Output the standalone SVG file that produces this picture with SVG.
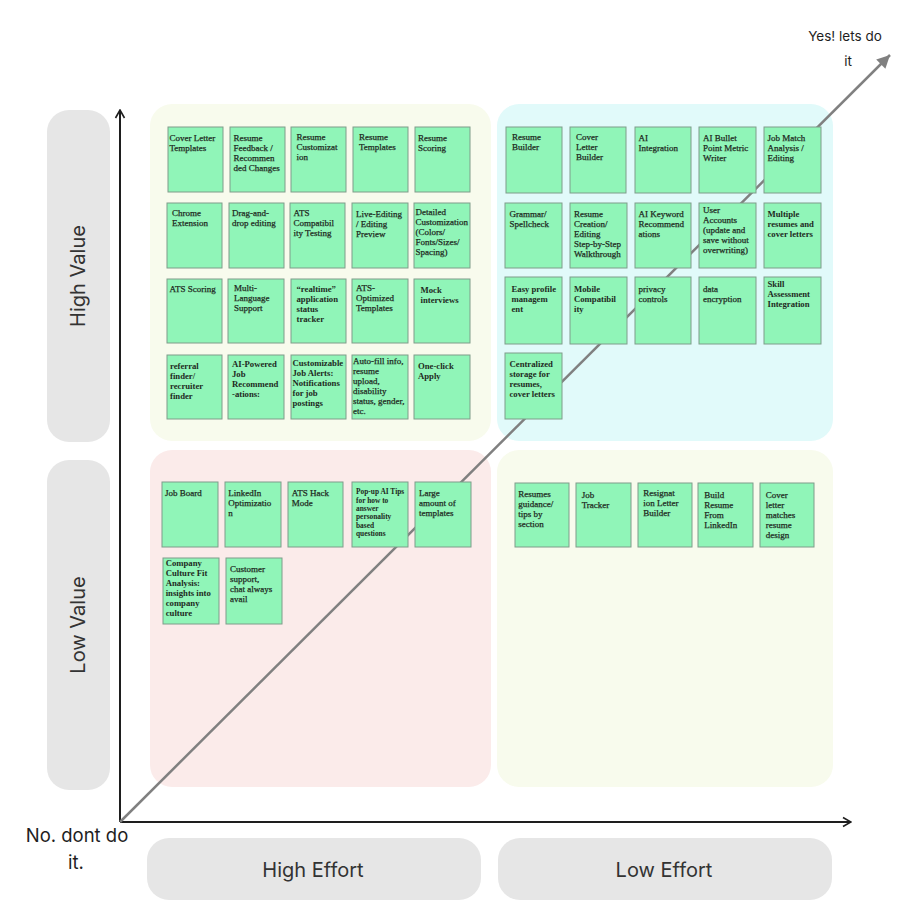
<svg xmlns="http://www.w3.org/2000/svg" width="908" height="914" viewBox="0 0 908 914">
<style>
.q{stroke:none}
.lab{fill:#e6e6e6}
.lt{font-family:Inter,"Noto Sans",sans-serif;font-size:20px;fill:#333;text-anchor:middle}
.ct{font-family:Inter,"Noto Sans",sans-serif;fill:#1e1e1e;text-anchor:middle}
.s rect{fill:#90f5b8;stroke:#7f9c8a;stroke-width:1}
.s text{font-family:"Liberation Serif","Times New Roman",serif;font-size:9px;fill:#1e2a22;stroke:#1e2a22;stroke-width:0.25}
.s text.b{font-weight:bold;font-size:8.7px;stroke:none}
.s text.sm{font-weight:bold;font-size:7.4px;stroke:none}
</style>
<defs>
<marker id="chev" viewBox="0 0 10 10" refX="9" refY="5" markerUnits="userSpaceOnUse" markerWidth="10" markerHeight="16" orient="auto">
<path d="M1,0.5 L9,5 L1,9.5" fill="none" stroke="#1e1e1e" stroke-width="1.6"/>
</marker>
<marker id="tri" viewBox="0 0 10 10" refX="10" refY="5" markerUnits="userSpaceOnUse" markerWidth="15" markerHeight="13" orient="auto">
<path d="M0,0 L10,5 L0,10 z" fill="#808080"/>
</marker>
</defs>
<rect width="908" height="914" fill="#ffffff"/>

<g id="quadrants">
<rect id="q-high-effort-high-value" class="q" x="150" y="104" width="341" height="337" rx="22" fill="#f8fbed"/>
<rect id="q-low-effort-high-value" class="q" x="497" y="104" width="336" height="337" rx="22" fill="#e1fafa"/>
<rect id="q-high-effort-low-value" class="q" x="150" y="450" width="341" height="337" rx="22" fill="#fbebea"/>
<rect id="q-low-effort-low-value" class="q" x="497" y="450" width="336" height="337" rx="22" fill="#f8fbed"/>
</g>

<g id="axis-labels">
<g id="high-value"><rect class="lab" x="47" y="110" width="63" height="332" rx="22"/><text class="lt" transform="translate(85,276) rotate(-90)">High Value</text></g>
<g id="low-value"><rect class="lab" x="47" y="460" width="63" height="330" rx="22"/><text class="lt" transform="translate(85,625) rotate(-90)">Low Value</text></g>
<g id="high-effort"><rect class="lab" x="147" y="838" width="334" height="62" rx="22"/><text class="lt" x="313" y="877">High Effort</text></g>
<g id="low-effort"><rect class="lab" x="498" y="838" width="334" height="62" rx="22"/><text class="lt" x="664" y="877">Low Effort</text></g>
<g id="yes"><text class="ct" font-size="13.5" x="845" y="40.5">Yes! lets do<tspan x="848" y="66">it</tspan></text></g>
<g id="no"><text class="ct" font-size="18.5" x="77" y="841.5">No. dont do<tspan x="76" y="869">it.</tspan></text></g>
</g>

<g id="connectors">
<line id="y-axis" x1="120" y1="822" x2="120" y2="110" stroke="#1e1e1e" stroke-width="2" marker-end="url(#chev)"/>
<line id="x-axis" x1="120" y1="822" x2="851" y2="822" stroke="#1e1e1e" stroke-width="2" marker-end="url(#chev)"/>
<line id="diagonal" x1="120" y1="822" x2="890" y2="55" stroke="#808080" stroke-width="2.5" marker-end="url(#tri)"/>
</g>

<g id="stickies">
<g id="n1" class="s"><rect x="168" y="127" width="55" height="65"/><text x="169.5" y="141">Cover Letter<tspan x="169.5" dy="10">Templates</tspan></text></g>
<g id="n2" class="s"><rect x="230" y="127" width="55" height="65"/><text x="233.5" y="141">Resume<tspan x="233.5" dy="10">Feedback /</tspan><tspan x="233.5" dy="10">Recommen</tspan><tspan x="233.5" dy="10">ded Changes</tspan></text></g>
<g id="n3" class="s"><rect x="291" y="127" width="55" height="65"/><text x="296.5" y="140">Resume<tspan x="296.5" dy="10">Customizat</tspan><tspan x="296.5" dy="10">ion</tspan></text></g>
<g id="n4" class="s"><rect x="353" y="127" width="55" height="65"/><text x="359" y="140">Resume<tspan x="359" dy="10">Templates</tspan></text></g>
<g id="n5" class="s"><rect x="415" y="127" width="55" height="65"/><text x="418" y="141">Resume<tspan x="418" dy="10">Scoring</tspan></text></g>

<g id="n6" class="s"><rect x="167" y="203" width="55" height="65"/><text x="172" y="215.5">Chrome<tspan x="172" dy="10">Extension</tspan></text></g>
<g id="n7" class="s"><rect x="229" y="203" width="55" height="65"/><text x="232" y="215.5">Drag-and-<tspan x="232" dy="10">drop editing</tspan></text></g>
<g id="n8" class="s"><rect x="290" y="203" width="55" height="65"/><text x="293.5" y="215.5">ATS<tspan x="293.5" dy="10">Compatibil</tspan><tspan x="293.5" dy="10">ity Testing</tspan></text></g>
<g id="n9" class="s"><rect x="352" y="203" width="56" height="65"/><text x="356" y="216.5">Live-Editing<tspan x="356" dy="10">/ Editing</tspan><tspan x="356" dy="10">Preview</tspan></text></g>
<g id="n10" class="s"><rect x="414" y="203" width="56" height="65"/><text x="415.5" y="214.5">Detailed<tspan x="415.5" dy="10">Customization</tspan><tspan x="415.5" dy="10">(Colors/</tspan><tspan x="415.5" dy="10">Fonts/Sizes/</tspan><tspan x="415.5" dy="10">Spacing)</tspan></text></g>

<g id="n11" class="s"><rect x="167" y="279" width="55" height="64"/><text x="169.5" y="292">ATS Scoring</text></g>
<g id="n12" class="s"><rect x="228" y="279" width="56" height="64"/><text x="234" y="291">Multi-<tspan x="234" dy="10">Language</tspan><tspan x="234" dy="10">Support</tspan></text></g>
<g id="n13" class="s"><rect x="291" y="279" width="55" height="64"/><text class="b" x="296.5" y="292">“realtime”<tspan x="296.5" dy="10">application</tspan><tspan x="296.5" dy="10">status</tspan><tspan x="296.5" dy="10">tracker</tspan></text></g>
<g id="n14" class="s"><rect x="352" y="279" width="56" height="64"/><text x="356" y="291">ATS-<tspan x="356" dy="10">Optimized</tspan><tspan x="356" dy="10">Templates</tspan></text></g>
<g id="n15" class="s"><rect x="414" y="279" width="56" height="64"/><text class="b" x="420.5" y="293">Mock<tspan x="420.5" dy="10">interviews</tspan></text></g>

<g id="n16" class="s"><rect x="167" y="355" width="55" height="64"/><text class="b" x="170" y="368.5">referral<tspan x="170" dy="10">finder/</tspan><tspan x="170" dy="10">recruiter</tspan><tspan x="170" dy="10">finder</tspan></text></g>
<g id="n17" class="s"><rect x="228" y="355" width="56" height="64"/><text class="b" x="232" y="367">AI-Powered<tspan x="232" dy="10">Job</tspan><tspan x="232" dy="10">Recommend</tspan><tspan x="232" dy="10">-ations:</tspan></text></g>
<g id="n18" class="s"><rect x="291" y="355" width="55" height="64"/><text class="b" x="292.5" y="366">Customizable<tspan x="292.5" dy="10">Job Alerts:</tspan><tspan x="292.5" dy="10">Notifications</tspan><tspan x="292.5" dy="10">for job</tspan><tspan x="292.5" dy="10">postings</tspan></text></g>
<g id="n19" class="s"><rect x="352" y="355" width="56" height="64"/><text x="353" y="364">Auto-fill info,<tspan x="353" dy="10">resume</tspan><tspan x="353" dy="10">upload,</tspan><tspan x="353" dy="10">disability</tspan><tspan x="353" dy="10">status, gender,</tspan><tspan x="353" dy="10">etc.</tspan></text></g>
<g id="n20" class="s"><rect x="414" y="355" width="56" height="64"/><text class="b" x="418" y="368.5">One-click<tspan x="418" dy="10">Apply</tspan></text></g>

<g id="n21" class="s"><rect x="506" y="127" width="56" height="66"/><text x="512" y="140">Resume<tspan x="512" dy="10">Builder</tspan></text></g>
<g id="n22" class="s"><rect x="570" y="127" width="56" height="66"/><text x="576" y="140">Cover<tspan x="576" dy="10">Letter</tspan><tspan x="576" dy="10">Builder</tspan></text></g>
<g id="n23" class="s"><rect x="635" y="127" width="56" height="66"/><text x="638.5" y="140.5">AI<tspan x="638.5" dy="10">Integration</tspan></text></g>
<g id="n24" class="s"><rect x="699" y="127" width="57" height="66"/><text x="703" y="141">AI Bullet<tspan x="703" dy="10">Point Metric</tspan><tspan x="703" dy="10">Writer</tspan></text></g>
<g id="n25" class="s"><rect x="764" y="127" width="57" height="66"/><text x="767.5" y="141">Job Match<tspan x="767.5" dy="10">Analysis /</tspan><tspan x="767.5" dy="10">Editing</tspan></text></g>

<g id="n26" class="s"><rect x="505" y="203" width="57" height="65"/><text x="509.5" y="216.5">Grammar/<tspan x="509.5" dy="10">Spellcheck</tspan></text></g>
<g id="n27" class="s"><rect x="570" y="203" width="57" height="65"/><text x="574" y="216.5">Resume<tspan x="574" dy="10">Creation/</tspan><tspan x="574" dy="10">Editing</tspan><tspan x="574" dy="10">Step-by-Step</tspan><tspan x="574" dy="10">Walkthrough</tspan></text></g>
<g id="n28" class="s"><rect x="635" y="203" width="56" height="65"/><text x="638.5" y="216.5">AI Keyword<tspan x="638.5" dy="10">Recommend</tspan><tspan x="638.5" dy="10">ations</tspan></text></g>
<g id="n29" class="s"><rect x="699" y="203" width="57" height="65"/><text x="703" y="212.5">User<tspan x="703" dy="10">Accounts</tspan><tspan x="703" dy="10">(update and</tspan><tspan x="703" dy="10">save without</tspan><tspan x="703" dy="10">overwriting)</tspan></text></g>
<g id="n30" class="s"><rect x="764" y="203" width="57" height="65"/><text class="b" x="767.5" y="216.5">Multiple<tspan x="767.5" dy="10">resumes and</tspan><tspan x="767.5" dy="10">cover letters</tspan></text></g>

<g id="n31" class="s"><rect x="505" y="277" width="57" height="67"/><text class="b" x="511.5" y="291.5">Easy profile<tspan x="511.5" dy="10">managem</tspan><tspan x="511.5" dy="10">ent</tspan></text></g>
<g id="n32" class="s"><rect x="570" y="277" width="57" height="67"/><text class="b" x="574" y="291.5">Mobile<tspan x="574" dy="10">Compatibil</tspan><tspan x="574" dy="10">ity</tspan></text></g>
<g id="n33" class="s"><rect x="635" y="277" width="56" height="67"/><text x="638.5" y="291.5">privacy<tspan x="638.5" dy="10">controls</tspan></text></g>
<g id="n34" class="s"><rect x="699" y="277" width="57" height="67"/><text x="703" y="291.5">data<tspan x="703" dy="10">encryption</tspan></text></g>
<g id="n35" class="s"><rect x="764" y="277" width="57" height="67"/><text class="b" x="767.5" y="287">Skill<tspan x="767.5" dy="10">Assessment</tspan><tspan x="767.5" dy="10">Integration</tspan></text></g>

<g id="n36" class="s"><rect x="505" y="353" width="57" height="66"/><text class="b" x="509.5" y="367">Centralized<tspan x="509.5" dy="10">storage for</tspan><tspan x="509.5" dy="10">resumes,</tspan><tspan x="509.5" dy="10">cover letters</tspan></text></g>

<g id="n37" class="s"><rect x="162" y="482" width="56" height="65"/><text x="165" y="495.7">Job Board</text></g>
<g id="n38" class="s"><rect x="225" y="482" width="56" height="65"/><text x="228.3" y="495.7">LinkedIn<tspan x="228.3" dy="10">Optimizatio</tspan><tspan x="228.3" dy="10">n</tspan></text></g>
<g id="n39" class="s"><rect x="288" y="482" width="55" height="65"/><text x="291.7" y="495.7">ATS Hack<tspan x="291.7" dy="10">Mode</tspan></text></g>
<g id="n40" class="s"><rect x="352" y="482" width="56" height="65"/><text class="sm" x="356" y="494.2">Pop-up AI Tips<tspan x="356" dy="8.4">for how to</tspan><tspan x="356" dy="8.4">answer</tspan><tspan x="356" dy="8.4">personality</tspan><tspan x="356" dy="8.4">based</tspan><tspan x="356" dy="8.4">questions</tspan></text></g>
<g id="n41" class="s"><rect x="415" y="482" width="56" height="65"/><text x="419" y="495.7">Large<tspan x="419" dy="10">amount of</tspan><tspan x="419" dy="10">templates</tspan></text></g>

<g id="n42" class="s"><rect x="163" y="558" width="56" height="66"/><text class="b" x="165.7" y="566.3">Company<tspan x="165.7" dy="10">Culture Fit</tspan><tspan x="165.7" dy="10">Analysis:</tspan><tspan x="165.7" dy="10">insights into</tspan><tspan x="165.7" dy="10">company</tspan><tspan x="165.7" dy="10">culture</tspan></text></g>
<g id="n43" class="s"><rect x="226" y="558" width="56" height="66"/><text x="230" y="572.3">Customer<tspan x="230" dy="10">support,</tspan><tspan x="230" dy="10">chat always</tspan><tspan x="230" dy="10">avail</tspan></text></g>

<g id="n44" class="s"><rect x="515" y="483" width="54" height="64"/><text x="518.3" y="497">Resumes<tspan x="518.3" dy="10">guidance/</tspan><tspan x="518.3" dy="10">tips by</tspan><tspan x="518.3" dy="10">section</tspan></text></g>
<g id="n45" class="s"><rect x="576" y="483" width="55" height="64"/><text x="581.7" y="498">Job<tspan x="581.7" dy="10">Tracker</tspan></text></g>
<g id="n46" class="s"><rect x="638" y="483" width="54" height="64"/><text x="643.3" y="496.3">Resignat<tspan x="643.3" dy="10">ion Letter</tspan><tspan x="643.3" dy="10">Builder</tspan></text></g>
<g id="n47" class="s"><rect x="698" y="483" width="55" height="64"/><text x="704.3" y="498">Build<tspan x="704.3" dy="10">Resume</tspan><tspan x="704.3" dy="10">From</tspan><tspan x="704.3" dy="10">LinkedIn</tspan></text></g>
<g id="n48" class="s"><rect x="760" y="483" width="54" height="64"/><text x="765.7" y="498">Cover<tspan x="765.7" dy="10">letter</tspan><tspan x="765.7" dy="10">matches</tspan><tspan x="765.7" dy="10">resume</tspan><tspan x="765.7" dy="10">design</tspan></text></g>
</g>
</svg>
